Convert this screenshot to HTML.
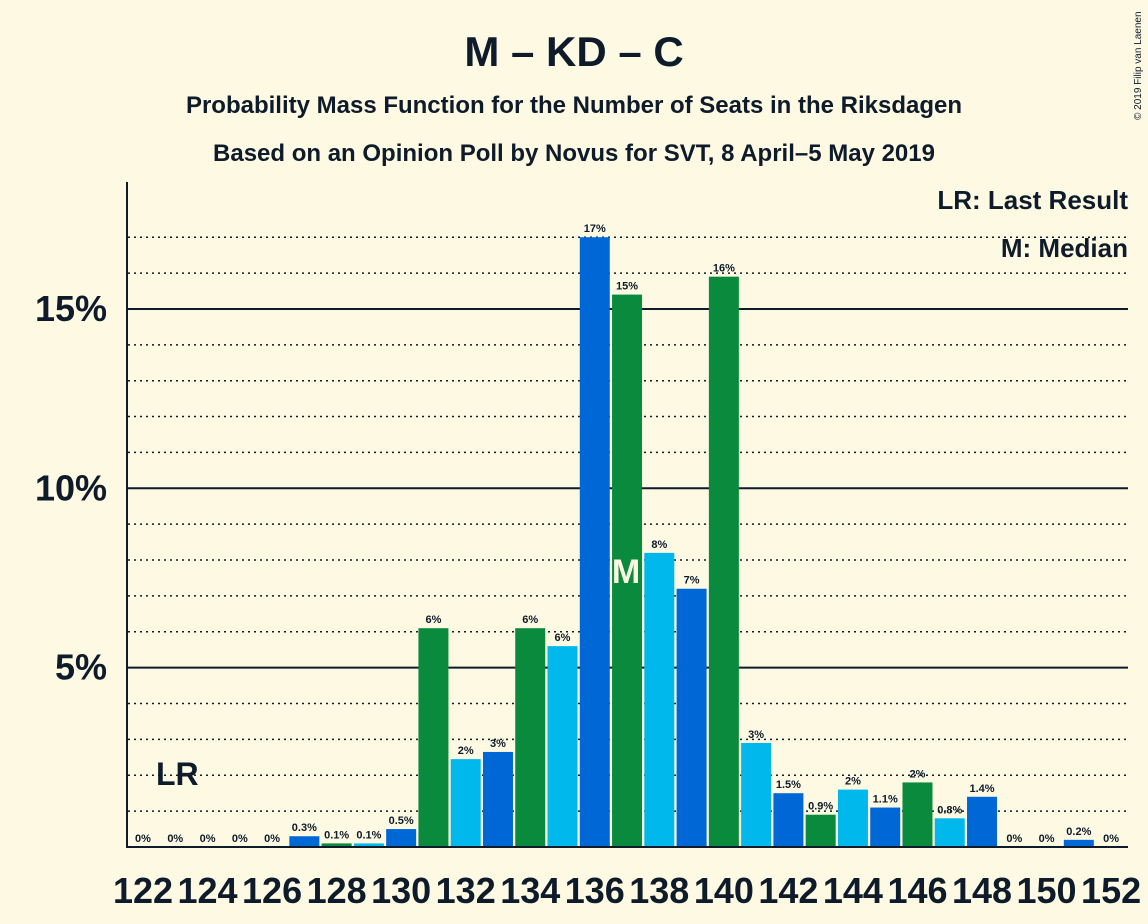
<!DOCTYPE html>
<html><head><meta charset="utf-8">
<style>
body{margin:0;background:#fef9e3;}
svg{display:block;font-family:"Liberation Sans",sans-serif;}
</style></head>
<body>
<svg id="chart" width="1148" height="924" viewBox="0 0 1148 924">
<rect width="1148" height="924" fill="#fef9e3"/>
<text x="574" y="66" text-anchor="middle" font-size="42" font-weight="bold" fill="#0d1b2a">M – KD – C</text>
<text x="574" y="113" text-anchor="middle" font-size="24" font-weight="bold" fill="#0d1b2a">Probability Mass Function for the Number of Seats in the Riksdagen</text>
<text x="574" y="161" text-anchor="middle" font-size="24" font-weight="bold" fill="#0d1b2a">Based on an Opinion Poll by Novus for SVT, 8 April–5 May 2019</text>
<text x="1141" y="120" font-size="10" fill="#0d1b2a" transform="rotate(-90 1141 120)">© 2019 Filip van Laenen</text>
<g id="grid"></g>
<g id="bars"></g>
<g id="labels"></g>
<line x1="127" y1="182" x2="127" y2="848" stroke="#0d1b2a" stroke-width="2"/>
<line x1="126" y1="847" x2="1128" y2="847" stroke="#0d1b2a" stroke-width="2"/>
<text x="1128" y="209" text-anchor="end" font-size="26" font-weight="bold" fill="#0d1b2a">LR: Last Result</text>
<text x="1128" y="257" text-anchor="end" font-size="26" font-weight="bold" fill="#0d1b2a">M: Median</text>
</svg>
<script>
const seats=[122,123,124,125,126,127,128,129,130,131,132,133,134,135,136,137,138,139,140,141,142,143,144,145,146,147,148,149,150,151,152];
const probs=[0,0,0,0,0,0.3,0.1,0.1,0.5,6.1,2.45,2.65,6.1,5.6,17.0,15.4,8.2,7.2,15.9,2.9,1.5,0.9,1.6,1.1,1.8,0.8,1.4,0,0,0.2,0];
const valueLabels=["0%","0%","0%","0%","0%","0.3%","0.1%","0.1%","0.5%","6%","2%","3%","6%","6%","17%","15%","8%","7%","16%","3%","1.5%","0.9%","2%","1.1%","2%","0.8%","1.4%","0%","0%","0.2%","0%"];
const yTicks=[5,10,15];
const lastResult=122, median=137;
const NS="http://www.w3.org/2000/svg";
const X=s=>143+(s-122)*32.27;
const Y=v=>847-v*35.87;
function mk(tag,attrs,parent){const e=document.createElementNS(NS,tag);for(const k in attrs)e.setAttribute(k,attrs[k]);parent.appendChild(e);return e;}
const grid=document.getElementById('grid'),bars=document.getElementById('bars'),labels=document.getElementById('labels'),svg=document.getElementById('chart');
for(let p=1;p<=17;p++){
  const solid=p%5===0;
  const l=mk('line',{x1:128,x2:1128,y1:Y(p),y2:Y(p),stroke:'#0d1b2a','stroke-width':solid?2:1.5,'stroke-dasharray':solid?'none':'2,4'},grid);
  
  
}
yTicks.forEach(t=>{
  const tx=mk('text',{x:107,y:Y(t)+12,'text-anchor':'end','font-size':36,'font-weight':'bold',fill:'#0d1b2a'},svg);
  tx.textContent=t+'%';
  
  
});
const colors={1:'#0068d6',2:'#0a8a3c',0:'#00b8ec'};
seats.forEach((s,i)=>{
  const v=probs[i],cx=X(s);
  if(v>0){
    const r=mk('rect',{x:cx-15,y:Y(v),width:30,height:847-Y(v),fill:colors[s%3]},bars);
    
    
  }
  const t=mk('text',{x:cx,y:Y(v)-5,'text-anchor':'middle','font-size':11,'font-weight':'bold',fill:'#0d1b2a'},labels);
  t.textContent=valueLabels[i];
  
  
  if(s%2===0){
    const xl=mk('text',{x:cx,y:903,'text-anchor':'middle','font-size':36,'font-weight':'bold',fill:'#0d1b2a'},svg);
    xl.textContent=s;
    
    
  }
  if(s===median){
    const m=mk('text',{x:cx-1,y:Y(7.7)+12,'text-anchor':'middle','font-size':34,'font-weight':'bold',fill:'#fef9e3'},labels);
    m.textContent='M';
    
    
  }
  if(s===lastResult){
    const lr=mk('text',{x:cx+13,y:785,'font-size':32,'font-weight':'bold',fill:'#0d1b2a'},labels);
    lr.textContent='LR';
    
    
  }
});
</script>
</body></html>
